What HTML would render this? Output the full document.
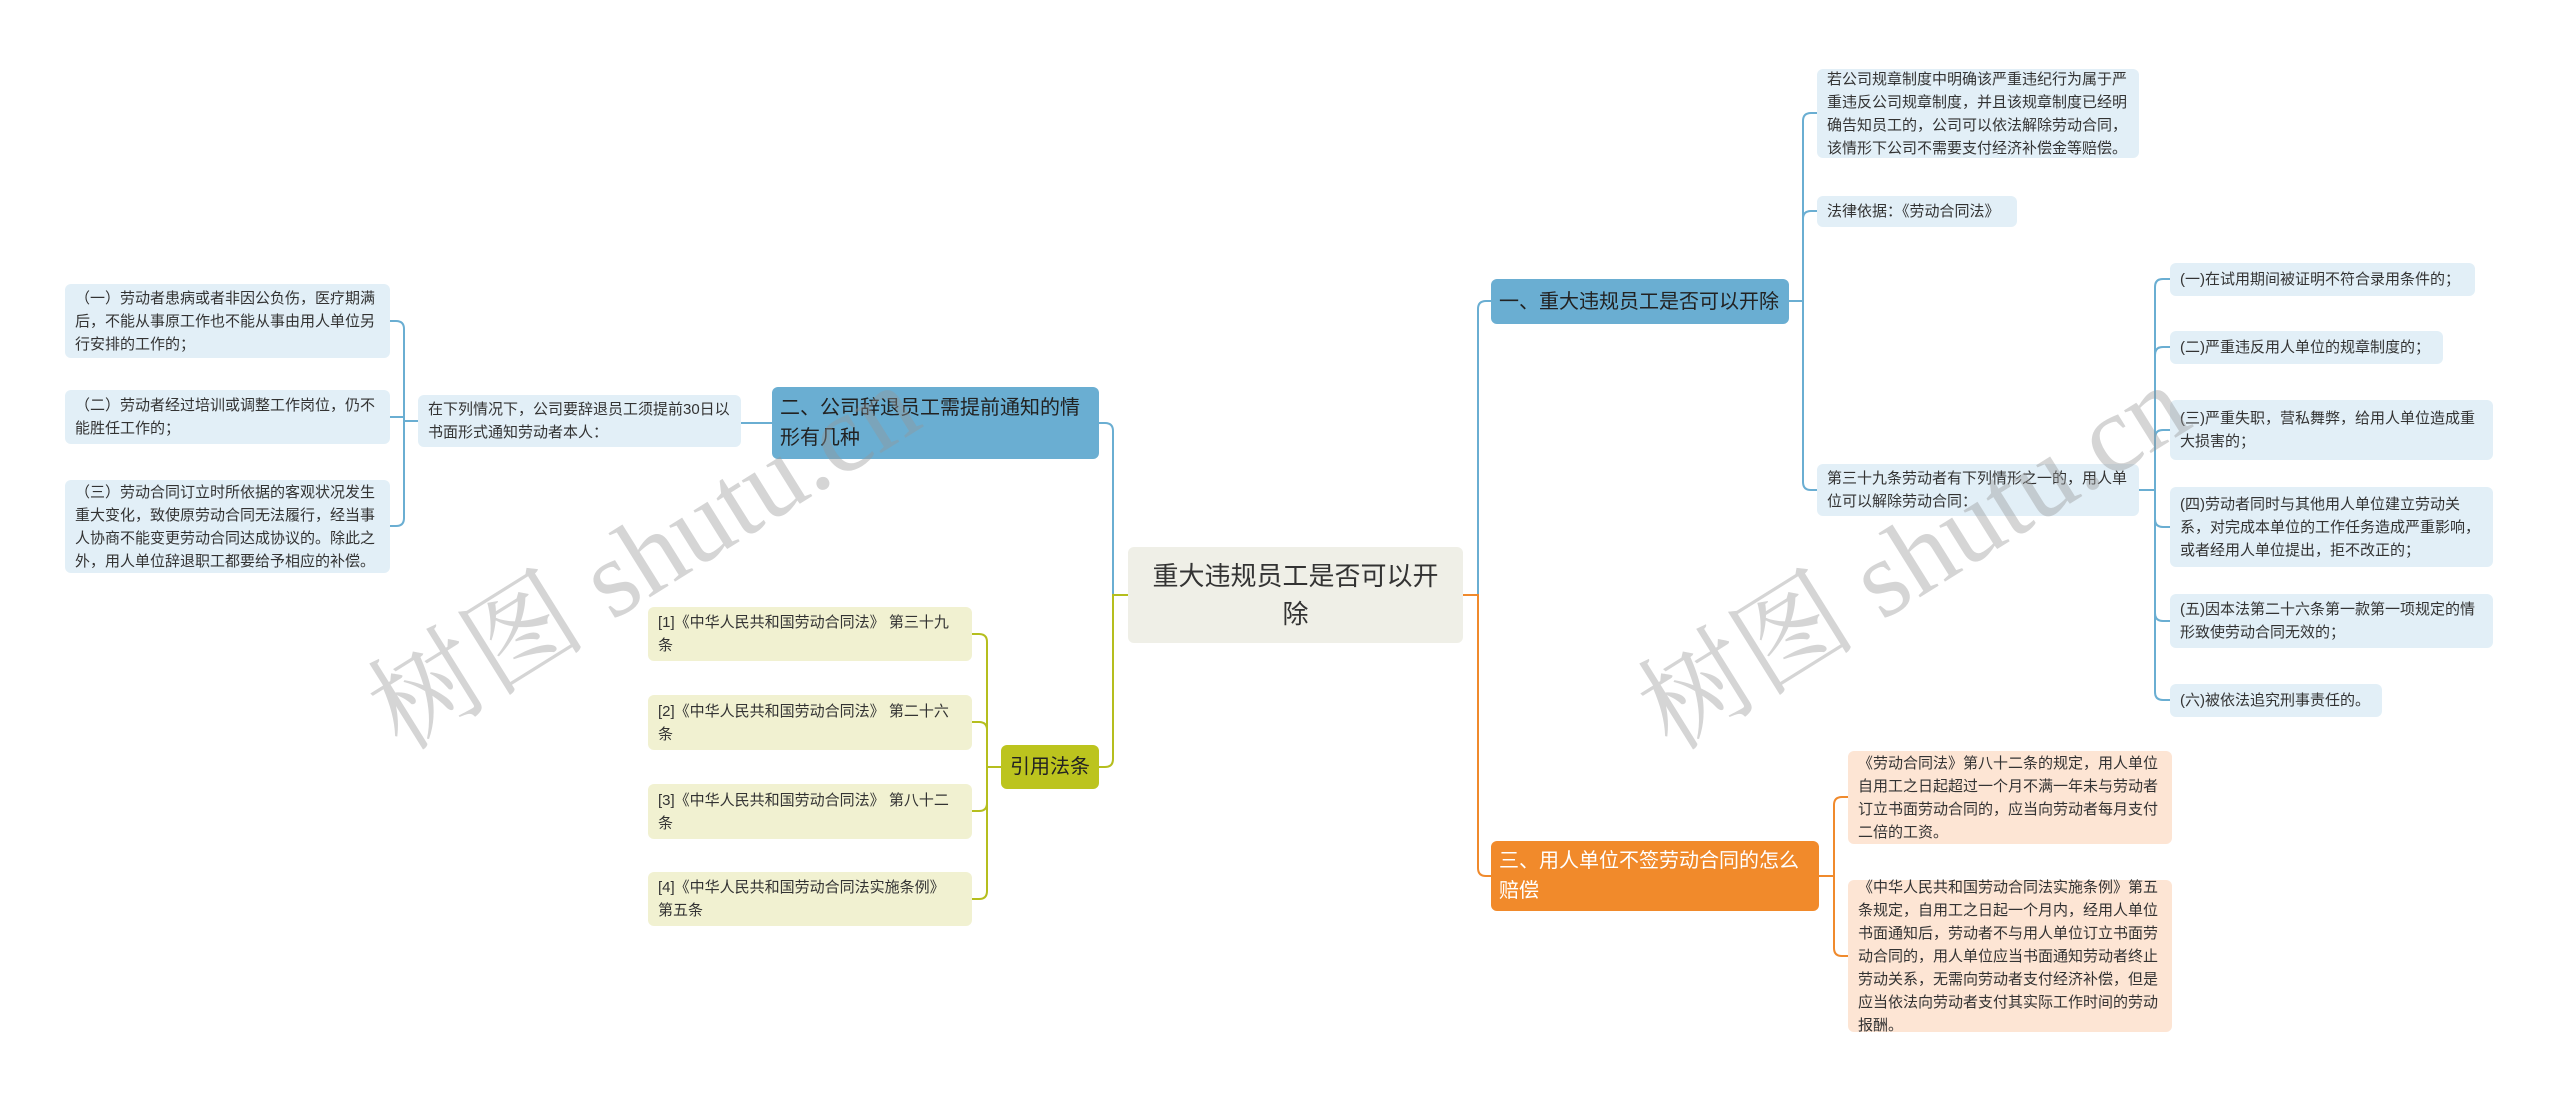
<!DOCTYPE html>
<html><head><meta charset="utf-8"><style>
body{margin:0;width:2560px;height:1099px;background:#fff;position:relative;overflow:hidden;font-family:"Liberation Sans","Noto Sans CJK SC",sans-serif;}
.n{position:absolute;box-sizing:border-box;border-radius:6px;color:#333;}
.l{background:#e2eff7;font-size:15px;line-height:23px;padding:0 10px;display:flex;align-items:center;}
.o{background:#fde5d4;}
.g{background:#f1f1d1;}
.b{background:#6aaed2;font-size:20px;line-height:30px;padding:0 8px;display:flex;align-items:center;color:#222;white-space:normal;}
svg{position:absolute;left:0;top:0;}
.wm{position:absolute;font-family:"Liberation Serif","Noto Serif CJK SC",serif;font-size:110px;color:rgba(150,150,150,0.4);transform:rotate(-32deg);white-space:nowrap;}
</style></head><body>
<svg width="2560" height="1099" fill="none" stroke-width="2">
<g stroke="#6aaed2">
<path d="M1463 595 H1478 V309 Q1478 301 1486 301 H1491"/>
<path d="M1128 595 H1113 V431 Q1113 423 1105 423 H1099"/>
<path d="M1789 301 H1803 V121 Q1803 113 1811 113 H1817"/>
<path d="M1789 301 H1803 V219 Q1803 211 1811 211 H1817"/>
<path d="M1789 301 H1803 V482 Q1803 490 1811 490 H1817"/>
<path d="M2139 490 H2155 V287 Q2155 279 2163 279 H2170"/>
<path d="M2139 490 H2155 V355 Q2155 347 2163 347 H2170"/>
<path d="M2139 490 H2155 V438 Q2155 430 2163 430 H2170"/>
<path d="M2139 490 H2155 V519 Q2155 527 2163 527 H2170"/>
<path d="M2139 490 H2155 V613 Q2155 621 2163 621 H2170"/>
<path d="M2139 490 H2155 V692 Q2155 700 2163 700 H2170"/>
<path d="M772 423 H741"/>
<path d="M418 421 H404 V329 Q404 321 396 321 H390"/>
<path d="M418 421 H404 V417 H390"/>
<path d="M418 421 H404 V518 Q404 526 396 526 H390"/>
</g>
<g stroke="#f08a2c">
<path d="M1463 595 H1478 V868 Q1478 876 1486 876 H1491"/>
<path d="M1819 876 H1834 V805 Q1834 797 1842 797 H1848"/>
<path d="M1819 876 H1834 V948 Q1834 956 1842 956 H1848"/>
</g>
<g stroke="#b5be1e">
<path d="M1128 595 H1113 V759 Q1113 767 1105 767 H1099"/>
<path d="M1001 767 H987 V642 Q987 634 979 634 H972"/>
<path d="M1001 767 H987 V730 Q987 722 979 722 H972"/>
<path d="M1001 767 H987 V803 Q987 811 979 811 H972"/>
<path d="M1001 767 H987 V891 Q987 899 979 899 H972"/>
</g>
</svg>

<div class="n" style="left:1128px;top:547px;width:335px;height:96px;background:#efefe7;font-size:26px;line-height:38px;text-align:center;display:flex;align-items:center;justify-content:center;padding:0 16px;">重大违规员工是否可以开除</div>

<div class="n b" style="left:1491px;top:279px;width:298px;height:45px;white-space:nowrap;">一、重大违规员工是否可以开除</div>
<div class="n b" style="left:1491px;top:841px;width:328px;height:70px;background:#f18a2b;color:#fff;">三、用人单位不签劳动合同的怎么赔偿</div>
<div class="n b" style="left:772px;top:387px;width:327px;height:72px;">二、公司辞退员工需提前通知的情形有几种</div>
<div class="n b" style="left:1001px;top:745px;width:98px;height:44px;background:#bcc41e;justify-content:center;padding:0;">引用法条</div>

<div class="n l" style="left:1817px;top:69px;width:322px;height:89px;">若公司规章制度中明确该严重违纪行为属于严重违反公司规章制度，并且该规章制度已经明确告知员工的，公司可以依法解除劳动合同，该情形下公司不需要支付经济补偿金等赔偿。</div>
<div class="n l" style="left:1817px;top:196px;width:200px;height:31px;">法律依据：《劳动合同法》</div>
<div class="n l" style="left:1817px;top:464px;width:322px;height:52px;">第三十九条劳动者有下列情形之一的，用人单位可以解除劳动合同：</div>

<div class="n l" style="left:2170px;top:263px;width:305px;height:33px;">(一)在试用期间被证明不符合录用条件的；</div>
<div class="n l" style="left:2170px;top:331px;width:273px;height:33px;">(二)严重违反用人单位的规章制度的；</div>
<div class="n l" style="left:2170px;top:400px;width:323px;height:60px;">(三)严重失职，营私舞弊，给用人单位造成重大损害的；</div>
<div class="n l" style="left:2170px;top:487px;width:323px;height:80px;">(四)劳动者同时与其他用人单位建立劳动关系，对完成本单位的工作任务造成严重影响，或者经用人单位提出，拒不改正的；</div>
<div class="n l" style="left:2170px;top:594px;width:323px;height:54px;">(五)因本法第二十六条第一款第一项规定的情形致使劳动合同无效的；</div>
<div class="n l" style="left:2170px;top:684px;width:212px;height:33px;">(六)被依法追究刑事责任的。</div>

<div class="n l o" style="left:1848px;top:751px;width:324px;height:93px;">《劳动合同法》第八十二条的规定，用人单位自用工之日起超过一个月不满一年未与劳动者订立书面劳动合同的，应当向劳动者每月支付二倍的工资。</div>
<div class="n l o" style="left:1848px;top:880px;width:324px;height:152px;">《中华人民共和国劳动合同法实施条例》第五条规定，自用工之日起一个月内，经用人单位书面通知后，劳动者不与用人单位订立书面劳动合同的，用人单位应当书面通知劳动者终止劳动关系，无需向劳动者支付经济补偿，但是应当依法向劳动者支付其实际工作时间的劳动报酬。</div>

<div class="n l" style="left:418px;top:395px;width:323px;height:52px;">在下列情况下，公司要辞退员工须提前30日以书面形式通知劳动者本人：</div>
<div class="n l" style="left:65px;top:284px;width:325px;height:74px;">（一）劳动者患病或者非因公负伤，医疗期满后，不能从事原工作也不能从事由用人单位另行安排的工作的；</div>
<div class="n l" style="left:65px;top:390px;width:325px;height:54px;">（二）劳动者经过培训或调整工作岗位，仍不能胜任工作的；</div>
<div class="n l" style="left:65px;top:480px;width:325px;height:93px;">（三）劳动合同订立时所依据的客观状况发生重大变化，致使原劳动合同无法履行，经当事人协商不能变更劳动合同达成协议的。除此之外，用人单位辞退职工都要给予相应的补偿。</div>

<div class="n l g" style="left:648px;top:607px;width:324px;height:54px;">[1]《中华人民共和国劳动合同法》 第三十九条</div>
<div class="n l g" style="left:648px;top:695px;width:324px;height:55px;">[2]《中华人民共和国劳动合同法》 第二十六条</div>
<div class="n l g" style="left:648px;top:784px;width:324px;height:55px;">[3]《中华人民共和国劳动合同法》 第八十二条</div>
<div class="n l g" style="left:648px;top:872px;width:324px;height:54px;">[4]《中华人民共和国劳动合同法实施条例》 第五条</div>

<div class="wm" style="left:330px;top:470px;">树图 shutu.cn</div>
<div class="wm" style="left:1600px;top:470px;">树图 shutu.cn</div>
</body></html>
